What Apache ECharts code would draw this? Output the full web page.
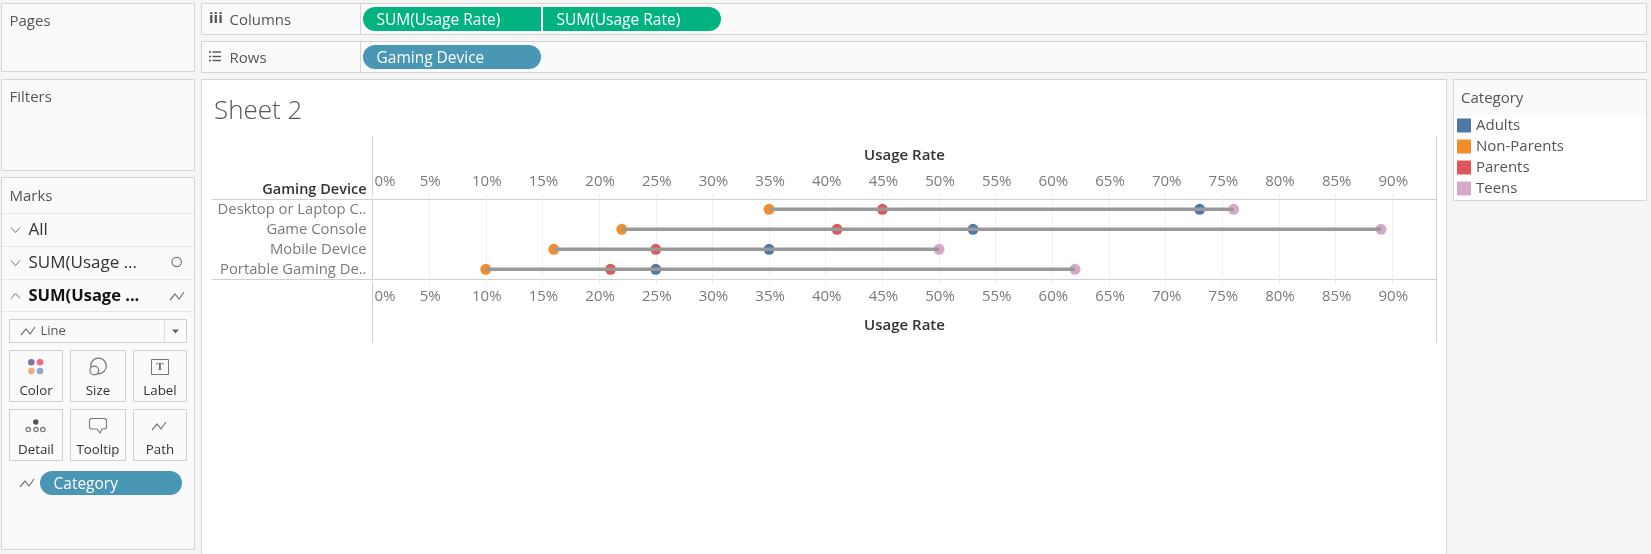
<!DOCTYPE html>
<html>
<head>
<meta charset="utf-8">
<title>Sheet 2</title>
<script src="https://cdn.jsdelivr.net/npm/echarts@6/dist/echarts.min.js"></script>
<style>
html, body { margin: 0; padding: 0; background: #f5f5f5; }
#main { width: 1651px; height: 554px; }
</style>
</head>
<body>
<div id="main"></div>
<script>
// values, in percent
const devices = ['Desktop or Laptop C..', 'Game Console', 'Mobile Device', 'Portable Gaming De..'];
const adults = [73, 53, 35, 25];
const nonParents = [35, 22, 16, 10];
const parents = [45, 41, 25, 21];
const teens = [76, 89, 50, 62];
const categoryNames = ['Adults', 'Non-Parents', 'Parents', 'Teens'];
const categoryColors = ['#4e79a7', '#f28e2b', '#e15759', '#d7a9c9'];

const FONT = '"Open Sans", sans-serif';
const BORDER = '#d4d4d4';
const TEAL = '#02b37f';
const BLUE = '#4a97b5';

// workbook chrome around the view
const chrome = [];

function box(x, y, w, h, fill, stroke) {
    chrome.push({
        type: 'rect', z: -5, silent: true,
        shape: {x: x, y: y, width: w, height: h},
        style: {fill: fill || '#fafafa', stroke: stroke === undefined ? BORDER : stroke, lineWidth: 1}
    });
}

function pill(x, y, w, h, fill, r, label, labelX) {
    chrome.push({
        type: 'rect', z: -4, silent: true,
        shape: {x: x, y: y, width: w, height: h, r: r},
        style: {fill: fill}
    });
    txt(label, labelX, y + h / 2 + 0.6, 15.5, '#fff');
}

function txt(text, x, y, size, color, weight, align) {
    chrome.push({
        type: 'text', z: -3, silent: true,
        style: {
            text: text, x: x, y: y + 1, fill: color || '#555',
            font: (weight || 400) + ' ' + size + 'px ' + FONT,
            verticalAlign: 'middle', align: align || 'left'
        }
    });
}

function hline(x1, x2, y, color, width) {
    chrome.push({
        type: 'line', z: -4, silent: true,
        shape: {x1: x1, y1: y, x2: x2, y2: y},
        style: {stroke: color || BORDER, lineWidth: width || 1}
    });
}

function vline(x, y1, y2, color) {
    chrome.push({
        type: 'line', z: -4, silent: true,
        shape: {x1: x, y1: y1, x2: x, y2: y2},
        style: {stroke: color || BORDER, lineWidth: 1}
    });
}

function poly(points, color, width) {
    chrome.push({
        type: 'polyline', z: -3, silent: true,
        shape: {points: points},
        style: {stroke: color || '#777', lineWidth: width || 1.2, fill: null}
    });
}

function circle(cx, cy, r, fill, stroke) {
    chrome.push({
        type: 'circle', z: -3, silent: true,
        shape: {cx: cx, cy: cy, r: r},
        style: {fill: fill || 'none', stroke: stroke || null, lineWidth: 1.2}
    });
}

function lineIcon(x, y) {
    poly([[x, y + 4], [x + 5, y - 2], [x + 9, y + 3], [x + 14, y - 4]], '#777', 1.2);
}

function chevron(x, y, up) {
    const d = up ? -2.5 : 2.5;
    poly([[x, y - d], [x + 4.5, y + d], [x + 9, y - d]], '#777', 1);
}

// left column
box(1.5, 3.5, 193, 68);
txt('Pages', 9.5, 21, 15);
box(1.5, 79.5, 193, 91);
txt('Filters', 9.5, 97, 15);
box(1.5, 177.5, 193, 372);
txt('Marks', 9.5, 195.5, 15);
hline(2, 194, 213.5, '#e6e6e6');
hline(2, 194, 246.5, '#e6e6e6');
hline(2, 194, 279.5, '#e6e6e6');
hline(2, 194, 311.5, '#e6e6e6');
chevron(11, 230, false);
txt('All', 28.5, 229.5, 17, '#333');
chevron(11, 263, false);
txt('SUM(Usage ...', 28.5, 262.5, 17, '#333');
circle(176.7, 262, 4.7, null, '#777');
chevron(11, 296, true);
txt('SUM(Usage ...', 28.5, 295, 16.5, '#111', 700);
lineIcon(170, 296);

box(9.5, 319.5, 177, 23, '#fafafa', '#cfcfcf');
vline(164.5, 320, 342, '#dcdcdc');
lineIcon(21, 331);
txt('Line', 40.5, 330.5, 13, '#555');
chrome.push({
    type: 'polygon', z: -3, silent: true,
    shape: {points: [[172, 329.5], [179, 329.5], [175.5, 333.5]]},
    style: {fill: '#666'}
});

const buttonX = [[9.5, 53], [70.5, 55], [133.5, 53]];
const buttonLabels = [['Color', 'Size', 'Label'], ['Detail', 'Tooltip', 'Path']];
[[350.5, 390.5], [409.5, 449.5]].forEach(function (row, r) {
    buttonX.forEach(function (b, c) {
        box(b[0], row[0], b[1], 51, '#fafafa', '#d0d0d0');
        txt(buttonLabels[r][c], b[0] + b[1] / 2, row[1], 13.3, '#333', 400, 'center');
    });
});
// Color
circle(31.3, 362.3, 3.3, '#85709a');
circle(40, 362.3, 3.3, '#f36b80');
circle(31.3, 371, 3.3, '#f3a97e');
circle(40, 371, 3.3, '#85aad3');
// Size
circle(98.5, 366, 7.8, null, '#777');
circle(94.3, 370.5, 4.4, '#fafafa', '#777');
// Label
box(151.5, 359.5, 17, 15, '#fafafa', '#777');
chrome.push({
    type: 'text', z: -3, silent: true,
    style: {text: 'T', x: 160, y: 367, fill: '#666', font: '700 11px "Liberation Serif", serif', align: 'center', verticalAlign: 'middle'}
});
// Detail
circle(35.8, 422, 2.7, '#555');
circle(28.3, 429.5, 2.2, null, '#777');
circle(36, 429.5, 2.2, null, '#777');
circle(42.8, 429.5, 2.2, null, '#777');
// Tooltip
poly([[91, 418.5], [105, 418.5], [106.5, 420], [106.5, 427.5], [105, 429], [102, 429], [100, 433], [97, 429], [91, 429], [89.5, 427.5], [89.5, 420], [91, 418.5]], '#777', 1.1);
// Path
lineIcon(152, 426);
// Category pill on the path shelf
lineIcon(20, 483);
pill(40, 471, 142, 24, BLUE, 12, 'Category', 53.5);

// shelves
box(201.5, 3.5, 1445, 31);
box(201.5, 41.5, 1445, 31);
vline(360.5, 4, 34);
vline(360.5, 42, 72);
txt('iii', 209, 18, 15, '#555', 700);
txt('Columns', 229.5, 19.6, 15);
[52, 56.5, 60.5].forEach(function (y) {
    hline(212.5, 221, y, '#555', 1.4);
    hline(209, 211, y, '#555', 1.4);
});
txt('Rows', 229.5, 57.6, 15);
pill(363, 7, 178, 24, TEAL, [12, 0, 0, 12], 'SUM(Usage Rate)', 376.5);
pill(543, 7, 178, 24, TEAL, [0, 12, 12, 0], 'SUM(Usage Rate)', 556.5);
pill(363, 45, 178, 24, BLUE, 12, 'Gaming Device', 376.5);

// view
box(201.5, 79.5, 1245, 490, '#fff');
hline(212, 372.5, 199.5, '#cfcfcf');
hline(212, 372.5, 279.5, '#cfcfcf');
vline(372.5, 136, 342, '#cfcfcf');
vline(1436.5, 136, 342, '#cfcfcf');

// legend card
box(1453.5, 79.5, 193, 121, '#fff');
box(1454, 80, 192, 35, '#fafafa', 'none');
txt('Category', 1461, 97.5, 15);

const pointOrder = [nonParents, parents, adults, teens];

const lineSeries = devices.map(function (device, i) {
    return {
        type: 'line',
        name: device,
        xAxisIndex: 0,
        yAxisIndex: 0,
        data: pointOrder.map(function (values) { return [values[i], device]; }),
        symbol: 'none',
        z: 5,
        silent: true,
        lineStyle: {color: '#999999', width: 3.4}
    };
});

const dotSeries = [adults, nonParents, parents, teens].map(function (values, c) {
    return {
        type: 'scatter',
        name: categoryNames[c],
        xAxisIndex: 0,
        yAxisIndex: 0,
        data: values.map(function (v, i) { return [v, devices[i]]; }),
        symbolSize: 11,
        z: 3,
        itemStyle: {color: categoryColors[c], opacity: 1}
    };
});

function valueAxis(position, nameGap, labelPad) {
    return {
        type: 'value',
        position: position,
        min: 0,
        max: 93.9,
        interval: 5,
        name: 'Usage Rate',
        nameLocation: 'middle',
        nameGap: nameGap,
        nameTextStyle: {color: '#333', fontFamily: FONT, fontSize: 15, fontWeight: 600},
        axisLine: {show: true, lineStyle: {color: '#cfcfcf', width: 1}},
        axisTick: {show: true, length: 5, lineStyle: {color: '#eeeeee'}},
        splitLine: {show: true, showMinLine: false, showMaxLine: false, lineStyle: {color: '#f0f0f0', width: 1}},
        axisLabel: {
            color: '#7a7a7a',
            fontFamily: FONT,
            fontSize: 15,
            margin: 10,
            padding: [0, 0, 0, labelPad],
            showMaxLabel: false,
            alignMinLabel: 'left',
            formatter: '{value}%'
        }
    };
}

const chart = echarts.init(document.getElementById('main'));
chart.setOption({
    animation: false,
    backgroundColor: '#f5f5f5',
    title: {
        text: 'Sheet 2',
        left: 214,
        top: 99,
        padding: 0,
        textStyle: {color: '#555', fontFamily: FONT, fontSize: 26, fontWeight: 300}
    },
    legend: {
        orient: 'vertical',
        left: 1457,
        top: 118,
        itemWidth: 14,
        itemHeight: 14,
        itemGap: 6,
        padding: 0,
        icon: 'rect',
        data: categoryNames,
        selectedMode: false,
        textStyle: {color: '#555', fontFamily: FONT, fontSize: 15, lineHeight: 12, padding: [2, 0, 0, 0]}
    },
    grid: {left: 372.5, width: 1064, top: 199.3, height: 80, containLabel: false},
    xAxis: [valueAxis('top', 36, 2), valueAxis('bottom', 39, 2)],
    yAxis: {
        type: 'category',
        inverse: true,
        data: devices,
        name: 'Gaming Device',
        nameLocation: 'start',
        nameGap: 2,
        nameTextStyle: {color: '#333', fontFamily: FONT, fontSize: 14.5, fontWeight: 600, align: 'right', padding: [0, 6, 0, 0]},
        axisLine: {show: false},
        axisTick: {show: false},
        splitLine: {show: false},
        axisLabel: {color: '#7a7a7a', fontFamily: FONT, fontSize: 14.8, margin: 6, padding: [2, 0, 0, 0]}
    },
    graphic: {elements: chrome},
    series: dotSeries.concat(lineSeries)
});
</script>
</body>
</html>
